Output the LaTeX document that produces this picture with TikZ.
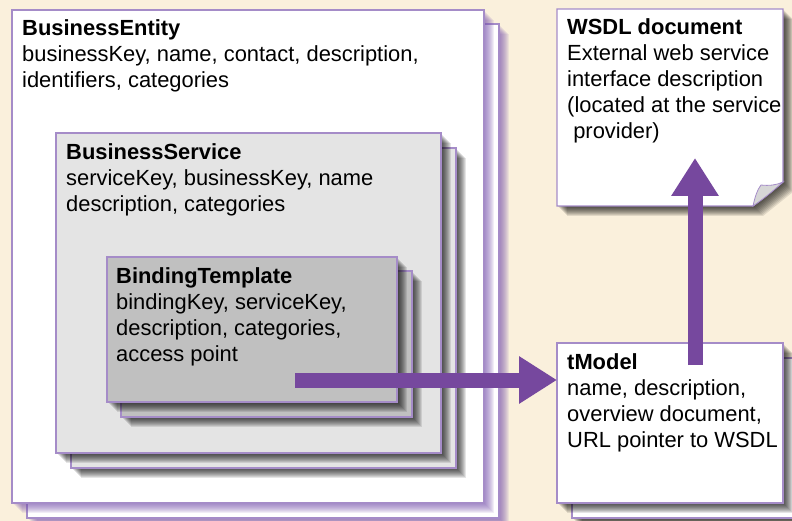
\documentclass[tikz,border=0pt]{standalone}
\usepackage{fontspec}
\setmainfont{Liberation Sans}
\usetikzlibrary{arrows.meta}
\definecolor{cream}{HTML}{FAF0DC}
\definecolor{edgepurple}{HTML}{A58CC8}
\definecolor{arrowpurple}{HTML}{76489E}
\definecolor{shadepurple}{HTML}{7A55B0}
\definecolor{servicegrey}{HTML}{E4E4E4}
\definecolor{bindinggrey}{HTML}{C0C0C0}
\definecolor{flapgrey}{HTML}{D6D6D6}

% box with a soft shadow towards the lower right
% #1 name, #2 fill, #3 shadow colour, #4..#7 corners
\newcommand\ShadedBox[7]{%
  \foreach \k in {1,...,10}{%
    \fill[#3, opacity=0.1] (#4+\k,#5+\k) rectangle (#6+\k,#7+\k);}
  \node[box, fill=#2, minimum width=#6-#4, minimum height=#7-#5,
        anchor=north west] (#1) at (#4,#5) {};
}

\begin{document}
\begin{tikzpicture}[x=1pt,y=-1pt,
  box/.style={draw=edgepurple, line width=1.3pt, inner sep=0pt, outer sep=0pt},
  % anchored at the baseline of the last line
  txt/.style={font=\fontsize{21.9}{26}\selectfont, align=left, inner sep=0pt,
              anchor=base west, text=black},
  bigarrow/.style={draw=arrowpurple, line width=15pt,
                   -{Triangle[width=45pt,length=38pt]}}]
\useasboundingbox (0,0) rectangle (792,521);
\fill[cream] (0,0) rectangle (792,521);

% BusinessEntity stack
\ShadedBox{beback}{white}{shadepurple}{27}{24}{499}{518}
\ShadedBox{be}{white}{shadepurple}{12}{10}{484}{503}
\node[txt] (betext) at (22,88) {\textbf{BusinessEntity}\\
  businessKey, name, contact, description,\\identifiers, categories};

% BusinessService stack
\ShadedBox{bsback}{servicegrey}{black}{71}{148}{456}{468}
\ShadedBox{bs}{servicegrey}{black}{56}{133}{441}{453}
\node[txt] (bstext) at (66,212) {\textbf{BusinessService}\\
  serviceKey, businessKey, name\\description, categories};

% BindingTemplate stack
\ShadedBox{btback}{bindinggrey}{black}{121}{271}{412}{417}
\ShadedBox{bt}{bindinggrey}{black}{107}{257}{397}{402}
\node[txt] (bttext) at (116,361) {\textbf{BindingTemplate}\\
  bindingKey, serviceKey,\\description, categories,\\access point};

% tModel stack
\ShadedBox{tmback}{white}{black}{572}{358}{798}{518}
\ShadedBox{tm}{white}{black}{557}{343}{783}{503}
\node[txt] (tmtext) at (567,447) {\textbf{tModel}\\
  name, description,\\overview document,\\URL pointer to WSDL};

% WSDL document page with a curled corner
\foreach \k in {1,...,10}{%
  \fill[black, opacity=0.1] (557+\k,9+\k) -- (783+\k,9+\k) -- (783+\k,182+\k)
    -- (753+\k,206+\k) -- (557+\k,206+\k) -- cycle;}
\node[inner sep=0pt, outer sep=0pt, minimum width=226, minimum height=197,
      anchor=north west] (wsdl) at (557,9) {};
\filldraw[box, fill=white] (wsdl.north west) -- (wsdl.north east)
  -- (783,182) -- (753,206) -- (wsdl.south west) -- cycle;
\filldraw[box, fill=flapgrey, line width=0.8pt] (753,206)
  .. controls (755,197) and (757,190) .. (761,185)
  .. controls (769,186) and (777,185) .. (783,182)
  .. controls (772,192) and (762,200) .. (753,206) -- cycle;
\node[txt] (wsdltext) at (567,139) {\textbf{WSDL document}\\
  External web service\\interface description\\(located at the service\\
  \ provider)};

% references between the structures
\coordinate (hstart) at (295,380);
\draw[bigarrow] (hstart) -- (hstart -| tm.west);
\coordinate (vstart) at (695,365);
\coordinate (vend) at (695,158);
\draw[bigarrow] (vstart) -- (vend);
\end{tikzpicture}
\end{document}
